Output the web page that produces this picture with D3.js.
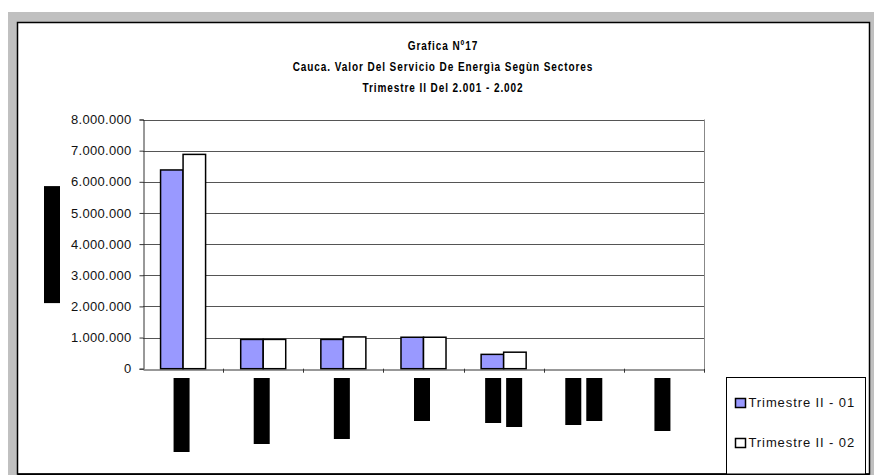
<!DOCTYPE html>
<html>
<head>
<meta charset="utf-8">
<script src="https://cdn.jsdelivr.net/npm/d3@7"></script>
<style>
  html, body { margin: 0; padding: 0; background: #fff; }
  svg { display: block; font-family: 'Liberation Sans', Arial, sans-serif; }
</style>
</head>
<body>
<div id="chart"></div>
<script>
// Values
const categories = ['c1', 'c2', 'c3', 'c4', 'c5', 'c6', 'c7'];
const series = ['Trimestre II - 01', 'Trimestre II - 02'];
const trim01 = [6380000, 940000, 940000, 1010000, 460000, 0, 0];
const trim02 = [6880000, 940000, 1020000, 1010000, 530000, 0, 0];
const yTicks = [0, 1000000, 2000000, 3000000, 4000000, 5000000, 6000000, 7000000, 8000000];
const titleLines = ['Grafica Nº17', 'Cauca. Valor Del Servicio De Energìa Segùn Sectores', 'Trimestre II  Del 2.001 - 2.002'];
// hidden (blacked out) category labels: length of each line box
const labelBoxes = [[74], [66], [61], [43], [45, 49], [47, 43], [53]];

const COLORS = ['#9999ff', '#ffffff'];
const width = 874;
const height = 475;
const plot = {left: 143, right: 704, top: 119.5, bottom: 368.7};

const fmt = d3.formatLocale({decimal: ',', thousands: '.', grouping: [3], currency: ['', '']}).format(',.0f');

const svg = d3.select('#chart')
  .append('svg')
    .attr('width', width)
    .attr('height', height);

// sheet background and chart frame
svg.append('rect')
  .attr('x', 8).attr('y', 12)
  .attr('width', width - 8).attr('height', height - 12)
  .attr('fill', '#c0c0c0');
svg.append('rect')
  .attr('x', 17.5).attr('y', 22.5)
  .attr('width', 852).attr('height', 451.5)
  .attr('fill', '#fff')
  .attr('stroke', '#000')
  .attr('stroke-width', 1.5);

// title (condensed, letter spaced like the original narrow font)
svg.append('g')
    .attr('transform', 'translate(443,0) scale(0.77,1)')
  .selectAll('text')
  .data(titleLines)
  .enter().append('text')
    .attr('x', 0)
    .attr('y', (d, i) => 50 + i * 21)
    .attr('text-anchor', 'middle')
    .attr('font-size', '13px')
    .attr('font-weight', 'bold')
    .attr('letter-spacing', '1.2px')
    .attr('fill', '#000')
    .text(d => d);

const x = d3.scaleBand()
  .domain(categories)
  .range([plot.left, plot.right]);
const xInner = d3.scaleBand()
  .domain(series)
  .range([0, x.bandwidth()])
  .paddingOuter(0.78)
  .paddingInner(0);
const y = d3.scaleLinear()
  .domain([0, 8000000])
  .range([plot.bottom, plot.top]);

// gridlines
svg.append('g')
  .selectAll('line')
  .data(yTicks.slice(1))
  .enter().append('line')
    .attr('x1', plot.left).attr('x2', plot.right)
    .attr('y1', d => Math.round(y(d)) + 0.5)
    .attr('y2', d => Math.round(y(d)) + 0.5)
    .attr('stroke', '#555')
    .attr('stroke-width', 1);

// right border of plot area
svg.append('line')
  .attr('x1', plot.right + 0.5).attr('x2', plot.right + 0.5)
  .attr('y1', plot.top).attr('y2', plot.bottom)
  .attr('stroke', '#888');

// y axis
const yAxis = svg.append('g')
  .attr('transform', `translate(${plot.left + 0.5},0)`)
  .call(d3.axisLeft(y).tickValues(yTicks).tickFormat(fmt).tickSize(4).tickPadding(8));
yAxis.select('.domain').attr('stroke', '#333');
yAxis.selectAll('.tick line').attr('stroke', '#333');
yAxis.selectAll('.tick text')
  .attr('font-family', "'Liberation Sans', Arial, sans-serif")
  .attr('font-size', '13px')
  .attr('letter-spacing', '0.3px')
  .attr('fill', '#111');

// bars
const rows = categories.map((c, i) => ({cat: c, values: [trim01[i], trim02[i]]}));
svg.append('g')
  .selectAll('g')
  .data(rows)
  .enter().append('g')
    .attr('transform', d => `translate(${x(d.cat)},0)`)
  .selectAll('rect')
  .data(d => d.values.map((v, j) => ({key: series[j], value: v, j: j})).filter(d => d.value > 0))
  .enter().append('rect')
    .attr('x', d => xInner(d.key))
    .attr('y', d => y(d.value))
    .attr('width', xInner.bandwidth())
    .attr('height', d => y(0) - y(d.value))
    .attr('fill', d => COLORS[d.j])
    .attr('stroke', '#000')
    .attr('stroke-width', 1.5);

// x axis
const xAxis = svg.append('g')
  .attr('transform', `translate(0,${Math.round(plot.bottom) + 0.5})`)
  .call(d3.axisBottom(x).tickSize(0).tickFormat(''));
xAxis.select('.domain').attr('stroke', '#333');
svg.append('g')
  .selectAll('line')
  .data(categories.slice(1).concat(['end']))
  .enter().append('line')
    .attr('x1', d => Math.round(d === 'end' ? plot.right : x(d)) + 0.5)
    .attr('x2', d => Math.round(d === 'end' ? plot.right : x(d)) + 0.5)
    .attr('y1', plot.bottom)
    .attr('y2', plot.bottom + 4)
    .attr('stroke', '#333');

// blacked out category labels (rotated text boxes)
const boxW = 16;
const boxGap = 5;
svg.append('g')
  .selectAll('g')
  .data(rows.map((r, i) => ({cat: r.cat, boxes: labelBoxes[i]})))
  .enter().append('g')
    .attr('transform', d => `translate(${x(d.cat) + x.bandwidth() / 2 - 1.5},0)`)
  .selectAll('rect')
  .data(d => d.boxes.map((len, k) => ({len: len, k: k, n: d.boxes.length})))
  .enter().append('rect')
    .attr('x', d => d.n === 1 ? -boxW / 2 : (d.k === 0 ? -boxW - boxGap / 2 + 1.5 : boxGap / 2 + 1.5))
    .attr('y', 378)
    .attr('width', boxW)
    .attr('height', d => d.len)
    .attr('fill', '#000');

// blacked out y axis title
svg.append('rect')
  .attr('x', 44)
  .attr('y', (plot.top + plot.bottom) / 2 - 58)
  .attr('width', 16)
  .attr('height', 117)
  .attr('fill', '#000');

// legend
const legend = svg.append('g');
legend.append('rect')
  .attr('x', 726.5).attr('y', 377.5)
  .attr('width', 139).attr('height', 110)
  .attr('fill', '#fff')
  .attr('stroke', '#000')
  .attr('stroke-width', 1);
const items = legend.selectAll('g.item')
  .data(series)
  .enter().append('g')
    .attr('class', 'item')
    .attr('transform', (d, i) => `translate(735,${398 + i * 40})`);
items.append('rect')
  .attr('x', 0.5).attr('y', 0.5)
  .attr('width', 10).attr('height', 9)
  .attr('fill', (d, i) => COLORS[i])
  .attr('stroke', '#000')
  .attr('stroke-width', 1.5);
items.append('text')
  .attr('x', 13.5)
  .attr('y', 9)
  .attr('font-size', '13px')
  .attr('letter-spacing', '0.9px')
  .attr('fill', '#111')
  .text(d => d);

// chart frame bottom edge redrawn over legend
svg.append('line')
  .attr('x1', 17.5).attr('x2', 869.5)
  .attr('y1', 474.25).attr('y2', 474.25)
  .attr('stroke', '#000')
  .attr('stroke-width', 1.5);
</script>
</body>
</html>
